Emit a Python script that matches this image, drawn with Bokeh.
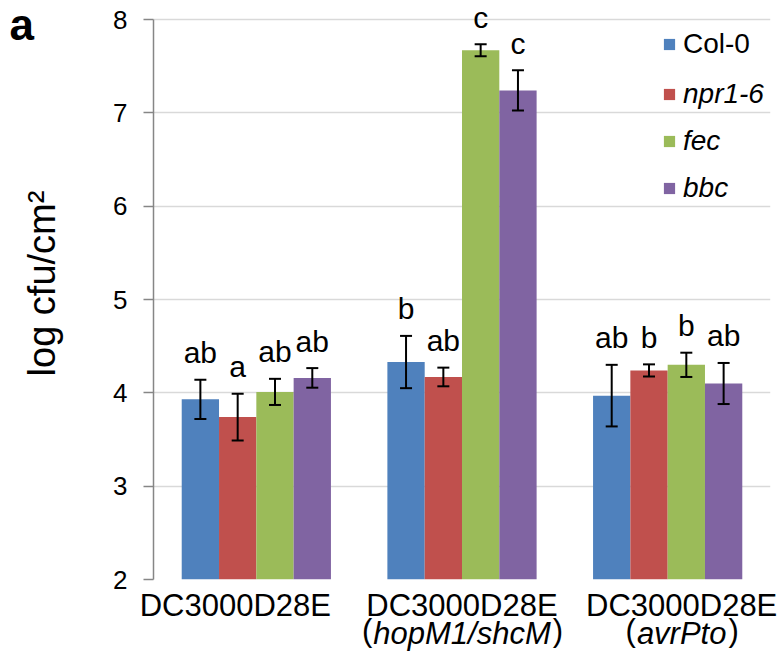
import math
from bokeh.plotting import figure
from bokeh.models import (ColumnDataSource, Range1d, FixedTicker, Whisker, TeeHead,
                          Legend, LegendItem, Label, LinearAxis)
from bokeh.core.properties import value
from bokeh.embed import file_html
from bokeh.resources import INLINE

# ---------------- data ----------------
group_line1 = ["DC3000D28E", "DC3000D28E", "DC3000D28E"]
group_line2 = ["", "hopM1/shcM", "avrPto"]
genotypes = ["Col-0", "npr1-6", "fec", "bbc"]

col0_mean = [3.93, 4.33, 3.97]
npr1_mean = [3.74, 4.17, 4.24]
fec_mean = [4.01, 7.67, 4.30]
bbc_mean = [4.16, 7.24, 4.10]

col0_err = [0.21, 0.28, 0.33]
npr1_err = [0.25, 0.10, 0.065]
fec_err = [0.14, 0.065, 0.13]
bbc_err = [0.105, 0.215, 0.22]

col0_sig = ["ab", "b", "ab"]
npr1_sig = ["a", "ab", "b"]
fec_sig = ["ab", "c", "b"]
bbc_sig = ["ab", "c", "ab"]

y_ticks = [2, 3, 4, 5, 6, 7, 8]

# ---------------- layout / styles ----------------
FONT = "Liberation Sans"
colors = ["#4F81BD", "#C0504D", "#9BBB59", "#8064A2"]
bar_w = 0.1814
label_shift_px = [-21, 0, 14]       # horizontal shift of the category labels
W, H = 778, 665
Y_HEADROOM = 0.15                   # room above the top tick for the letters
B_LEFT, B_RIGHT, B_TOP = 153, 8, 5
PX_Y = 93.33
FRAME_H = round((y_ticks[-1] - y_ticks[0] + Y_HEADROOM) * PX_Y)
FRAME_W = W - B_LEFT - B_RIGHT
n = len(group_line1)
PX_X = FRAME_W / n
LETTER_ANCHOR_PX = 27
XLAB_PX = 31
# Liberation Sans Italic advance widths (em), for placing upright parentheses
ITW = {'h': .556, 'o': .556, 'p': .556, 'M': .833, '1': .556, '/': .278, 's': .5,
       'c': .5, 'a': .556, 'v': .5, 'r': .333, 'P': .667, 't': .278}

means = [col0_mean, npr1_mean, fec_mean, bbc_mean]
errs = [col0_err, npr1_err, fec_err, bbc_err]
sigs = [col0_sig, npr1_sig, fec_sig, bbc_sig]

p = figure(width=W, height=H, output_backend="svg", toolbar_location=None,
           x_range=Range1d(0, n),
           y_range=Range1d(y_ticks[0], y_ticks[-1] + Y_HEADROOM),
           x_axis_location=None,
           min_border_left=B_LEFT, min_border_right=B_RIGHT, min_border_top=B_TOP,
           min_border_bottom=H - B_TOP - FRAME_H)
p.outline_line_color = None
p.xgrid.visible = False
p.ygrid.grid_line_color = "#d9d9d9"
p.ygrid.grid_line_width = 1.5

ax = p.yaxis[0]
ax.ticker = FixedTicker(ticks=y_ticks)
ax.bounds = (y_ticks[0], y_ticks[-1])
ax.axis_line_color = "#868686"
ax.axis_line_width = 1.5
ax.major_tick_line_color = "#868686"
ax.major_tick_line_width = 1.5
ax.major_tick_out = 10
ax.major_tick_in = 0
ax.minor_tick_line_color = None
ax.major_label_text_font = FONT
ax.major_label_text_font_size = "26px"
ax.major_label_text_color = "black"
ax.major_label_standoff = 16

renderers = []
for i, g in enumerate(genotypes):
    xs = [j + 0.5 + (i - 1.5) * bar_w for j in range(n)]
    up = [m + e for m, e in zip(means[i], errs[i])]
    lo = [m - e for m, e in zip(means[i], errs[i])]
    lab_y = [u + LETTER_ANCHOR_PX / PX_Y for u in up]
    src = ColumnDataSource(dict(x=xs, top=means[i], upper=up, lower=lo, sig=sigs[i],
                                laby=lab_y))
    r = p.vbar(x='x', top='top', bottom=y_ticks[0], width=bar_w, fill_color=colors[i],
               line_color=None, source=src)
    renderers.append(r)
    w = Whisker(base='x', upper='upper', lower='lower', source=src, level="overlay",
                line_color="black", line_width=2,
                upper_head=TeeHead(size=12, line_color="black", line_width=2),
                lower_head=TeeHead(size=12, line_color="black", line_width=2))
    p.add_layout(w)
    p.text(x='x', y='laby', text='sig', source=src, text_font=value(FONT),
           text_font_size="30px", text_align="center", text_baseline="alphabetic",
           text_color="black")

# legends (Col-0 upright, mutants italic)
leg_common = dict(glyph_width=14, glyph_height=14, label_height=32, label_standoff=7,
                  spacing=15, padding=0, margin=0, border_line_color=None,
                  background_fill_alpha=0, label_text_font=FONT,
                  label_text_font_size="28px", label_text_color="black")
leg1 = Legend(items=[LegendItem(label=genotypes[0], renderers=[renderers[0]])],
              location=(509, 519), **leg_common)
leg2 = Legend(items=[LegendItem(label=genotypes[k], renderers=[renderers[k]])
                     for k in range(1, 4)],
              location=(509, 375), label_text_font_style="italic", **leg_common)
p.add_layout(leg1)
p.add_layout(leg2)

# category labels: two stacked x axes (line 1 upright, line 2 italic)
tick_pos = [round(j + 0.5 + label_shift_px[j] / PX_X, 4) for j in range(n)]


def cat_axis(labels, style, standoff):
    return LinearAxis(ticker=FixedTicker(ticks=tick_pos),
                      major_label_overrides={t: lab for t, lab in zip(tick_pos, labels)},
                      axis_line_color=None, major_tick_line_color=None,
                      minor_tick_line_color=None, major_tick_out=0, major_tick_in=0,
                      major_label_standoff=standoff, major_label_text_font=FONT,
                      major_label_text_font_size=f"{XLAB_PX}px",
                      major_label_text_font_style=style,
                      major_label_text_color="black")


p.add_layout(cat_axis(group_line1, "normal", 8), "below")
p.add_layout(cat_axis([s if s else " " for s in group_line2], "italic", -10), "below")

# upright parentheses around the italic second line
for j in range(n):
    if not group_line2[j]:
        continue
    half = sum(ITW.get(c, .556) for c in group_line2[j]) * XLAB_PX / 2
    for txt, off, align in (("(", -half - 1, "right"), (")", half + 2, "left")):
        p.add_layout(Label(x=tick_pos[j], y=y_ticks[0], x_offset=off, y_offset=-51,
                           text=txt, text_align=align, text_baseline="alphabetic",
                           text_font=FONT, text_font_size=f"{XLAB_PX}px",
                           text_color="black"), "left")

# y-axis title
p.add_layout(Label(x=0, y=(y_ticks[0] + y_ticks[-1]) / 2, x_offset=-112, y_offset=16,
                   angle=math.pi / 2,
                   text="log cfu/cm²", text_align="center", text_baseline="middle",
                   text_font=FONT, text_font_size="38px", text_color="black"), "left")
# panel letter
p.add_layout(Label(x=0, y=y_ticks[-1], x_offset=-144, y_offset=-5, text="a",
                   text_align="left", text_baseline="alphabetic", text_font=FONT,
                   text_font_style="bold", text_font_size="44px", text_color="black"), "left")

open("out.html", "w").write(file_html(p, INLINE))
